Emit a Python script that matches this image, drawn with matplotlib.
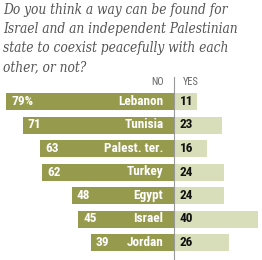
import matplotlib.pyplot as plt

countries = ["Lebanon", "Tunisia", "Palest. ter.", "Turkey", "Egypt", "Israel", "Jordan"]
no_vals = [79, 71, 63, 62, 48, 45, 39]
yes_vals = [11, 23, 16, 24, 24, 40, 26]
title_lines = ["Do you think a way can be found for",
               "Israel and an independent Palestinian",
               "state to coexist peacefully with each",
               "other, or not?"]

dark = "#959a4c"
light = "#d8deba"
lab_font = ["Roboto Condensed", "DejaVu Sans"]

fig = plt.figure(figsize=(2.62, 2.60), dpi=100)
ax = fig.add_axes([0, 0, 1, 1])
ppu = 2.12  # pixels per percentage point
cx = 173.5
ax.set_xlim(-cx / ppu, (262 - cx) / ppu)
ax.set_ylim(260, 0)
ax.axis("off")

row0, pitch = 101.5, 23.5
ys = [row0 + i * pitch for i in range(len(countries))]

ax.barh(ys, [-v for v in no_vals], height=17, color=dark)
ax.barh(ys, yes_vals, height=17, color=light)
ax.plot([0, 0], [77, 260], color="#999999", lw=0.8)

for i, (c, n, y_) in enumerate(zip(countries, no_vals, ys)):
    lbl = f"{n}%" if i == 0 else str(n)
    ax.text(-n + 5 / ppu, y_, lbl, color="white", fontsize=9.5, fontweight="bold",
            family=lab_font, ha="left", va="center")
    ax.text(-10 / ppu, y_, c, color="white", fontsize=9.5, fontweight="bold",
            family=lab_font, ha="right", va="center")
    ax.text(6 / ppu, y_, str(yes_vals[i]), color="#111111", fontsize=9.5,
            fontweight="bold", family=lab_font, ha="left", va="center")

ax.text(-10 / ppu, 82, "NO", color="#666666", fontsize=7.5, family=lab_font,
        ha="right", va="center")
ax.text(9 / ppu, 82, "YES", color="#666666", fontsize=7.5, family=lab_font,
        ha="left", va="center")

for k, line in enumerate(title_lines):
    ax.text(-cx / ppu + 3 / ppu, 10 + 19 * k, line, color="#555555", fontsize=9.8,
            family="DejaVu Serif", fontstretch="condensed", style="italic",
            ha="left", va="center")

fig.savefig("out.png", dpi=100)
